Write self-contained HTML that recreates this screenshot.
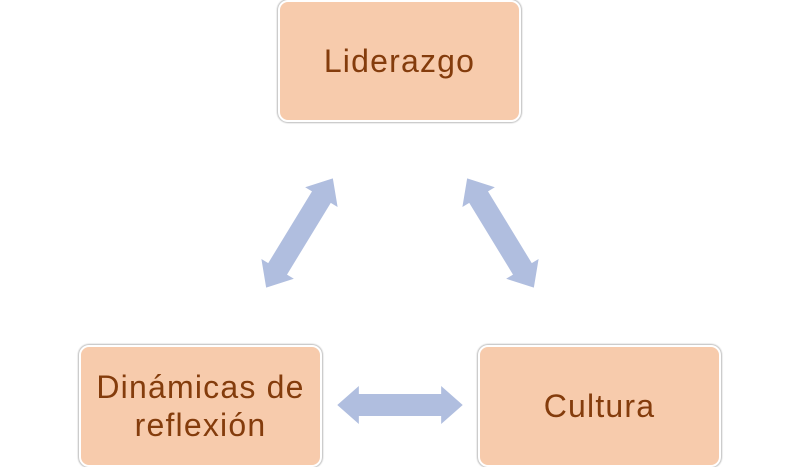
<!DOCTYPE html>
<html><head><meta charset="utf-8"><style>
body{margin:0;width:800px;height:467px;background:#fff;position:relative;overflow:hidden;font-family:"Liberation Sans",sans-serif}
.b{position:absolute;width:239px;height:118px;background:#F7CBAC;border:2px solid #fff;border-radius:10px;box-shadow:0 0 1.5px 1px #bbb;display:flex;align-items:center;justify-content:center;text-align:center;color:#843C0C;font-size:32px;letter-spacing:1.2px;line-height:38px}
svg{position:absolute;left:0;top:0}
</style></head><body>
<svg width="800" height="467">
<defs><polygon id="a" points="-64,0 -42,-19 -42,-11 42,-11 42,-19 64,0 42,19 42,11 -42,11 -42,19" fill="#B0BEDF"/></defs>
<use href="#a" transform="translate(299.5,233) rotate(-58.6)"/>
<use href="#a" transform="translate(500.5,233) rotate(58.6)"/>
<use href="#a" transform="translate(400,405) scale(0.98,1)"/>
</svg>
<div class="b" style="left:278px;top:0px">Liderazgo</div>
<div class="b" style="left:79px;top:345px">Dinámicas de<br>reflexión</div>
<div class="b" style="left:478px;top:345px">Cultura</div>
</body></html>
